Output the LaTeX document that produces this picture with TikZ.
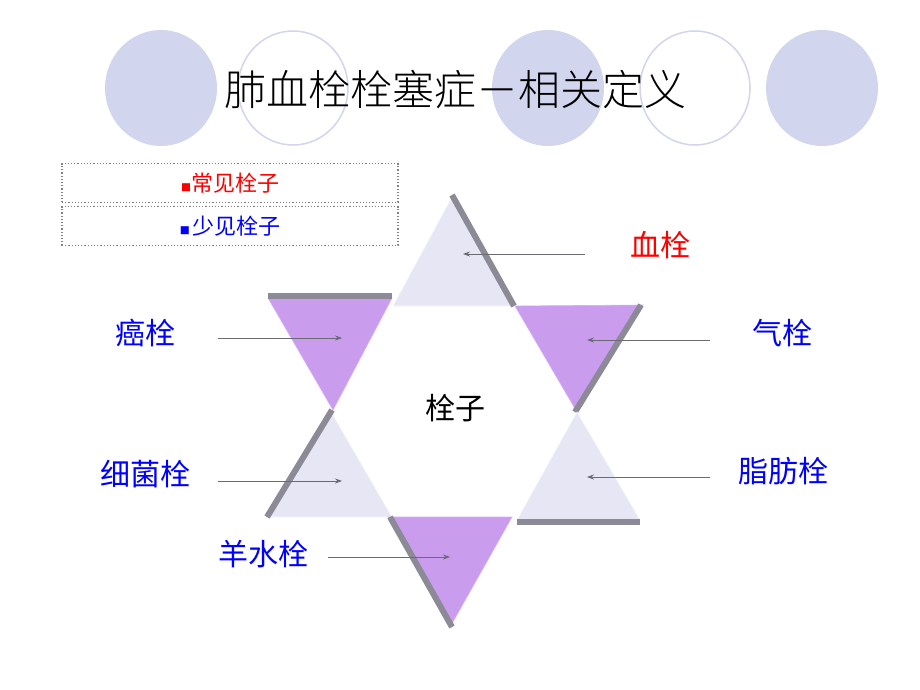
\documentclass[tikz,border=0pt]{standalone}
\usepackage{fontspec}
\newfontfamily\cjk{Noto Sans CJK SC}
\newfontfamily\cjkl{Noto Sans CJK SC Light}
\usetikzlibrary{arrows.meta}
\definecolor{lav}{HTML}{D2D5EE}
\definecolor{lighttri}{HTML}{E6E6F5}
\definecolor{purp}{HTML}{C99CEE}
\definecolor{shd}{HTML}{8C8A96}
\definecolor{arr}{HTML}{6A6A72}
\tikzset{
 fcirc/.style={fill=lav,draw=none},
 ocirc/.style={draw=lav,line width=1.5pt},
 ltri/.style={fill=lighttri,draw=white!70!lighttri,line width=0.6pt},
 ptri/.style={fill=purp,draw=purp!80!white,line width=0.6pt},
 shadow/.style={draw=shd,line width=6pt,line cap=butt},
 ptr/.style={draw=arr,line width=0.8pt,-{Stealth[length=7pt,width=5pt]}},
 lab/.style={font=\cjk\fontsize{30}{30}\selectfont,text=blue},
 dbox/.style={draw=gray,dotted,line width=1.2pt,minimum width=336pt,minimum height=39pt,inner sep=0pt}
}
\begin{document}
\begin{tikzpicture}[x=1pt,y=-1pt]
\useasboundingbox[fill=white] (0,0) rectangle (920,690);
% circles
\path[fcirc] (161,88) ellipse (56 and 58);
\path[fcirc] (548,88) ellipse (56 and 58);
\path[fcirc] (822,88) ellipse (56 and 58);
\draw[ocirc] (293,88) ellipse (55 and 57);
\draw[ocirc] (695,88) ellipse (55 and 57);
\node[font=\cjkl\fontsize{42}{42}\selectfont] (title) at (455,90) {肺血栓栓塞症－相关定义};
% boxes
\node[dbox] (b1) at (230,183) {};
\node[dbox] (b2) at (230,226) {};
\node[font=\cjk\fontsize{22}{22}\selectfont,text=red] (t1) at (b1) {\fontsize{10}{10}\selectfont■\fontsize{22}{22}\selectfont 常见栓子};
\node[font=\cjk\fontsize{22}{22}\selectfont,text=blue] (t2) at (b2) {\fontsize{10}{10}\selectfont■\ \fontsize{22}{22}\selectfont 少见栓子};
% triangles
\coordinate (A1) at (453,195); \coordinate (A2) at (393,306); \coordinate (A3) at (515,306);
\fill[ltri] (A1)--(A2)--(A3)--cycle;
\draw[shadow] ([xshift=-1]A1)--([xshift=-1]A3);
\coordinate (B1) at (268,298); \coordinate (B2) at (392,298); \coordinate (B3) at (333,410);
\fill[ptri] (B1)--(B2)--(B3)--cycle;
\draw[shadow] ([yshift=2]B1)--([yshift=2]B2);
\coordinate (C1) at (515,306); \coordinate (C2) at (643,305); \coordinate (C3) at (577,412);
\fill[ptri] (C1)--(C2)--(C3)--cycle;
\draw[shadow] ([xshift=-2]C2)--([xshift=-2]C3);
\coordinate (D1) at (330,410); \coordinate (D2) at (265,517); \coordinate (D3) at (392,517);
\fill[ltri] (D1)--(D2)--(D3)--cycle;
\draw[shadow] ([xshift=2]D1)--([xshift=2]D2);
\coordinate (E1) at (577,412); \coordinate (E2) at (517,520); \coordinate (E3) at (640,520);
\fill[ltri] (E1)--(E2)--(E3)--cycle;
\draw[shadow] ([yshift=-2]E2)--([yshift=-2]E3);
\coordinate (F1) at (388,517); \coordinate (F2) at (512,517); \coordinate (F3) at (450,627);
\fill[ptri] (F1)--(F2)--(F3)--cycle;
\draw[shadow] ([xshift=2]F1)--([xshift=2]F3);
% center
\node[font=\cjk\fontsize{30}{30}\selectfont] (c) at (455,408) {栓子};
% labels
\node[lab,text=red] (l1) at (660,245) {血栓};
\node[lab] (l2) at (145,333) {癌栓};
\node[lab] (l3) at (782,333) {气栓};
\node[lab] (l4) at (145,474) {细菌栓};
\node[lab] (l5) at (783,471) {脂肪栓};
\node[lab] (l6) at (263,554) {羊水栓};
% arrows
\coordinate (p1) at (585,254); \coordinate (q1) at (463,254);
\coordinate (p2) at (218,338); \coordinate (q2) at (342,338);
\coordinate (p3) at (710,340); \coordinate (q3) at (587,340);
\coordinate (p4) at (218,481); \coordinate (q4) at (342,481);
\coordinate (p5) at (710,477); \coordinate (q5) at (587,477);
\coordinate (p6) at (328,557); \coordinate (q6) at (450,557);
\foreach \i in {1,...,6} {\draw[ptr] (p\i)--(q\i);}
\end{tikzpicture}
\end{document}
